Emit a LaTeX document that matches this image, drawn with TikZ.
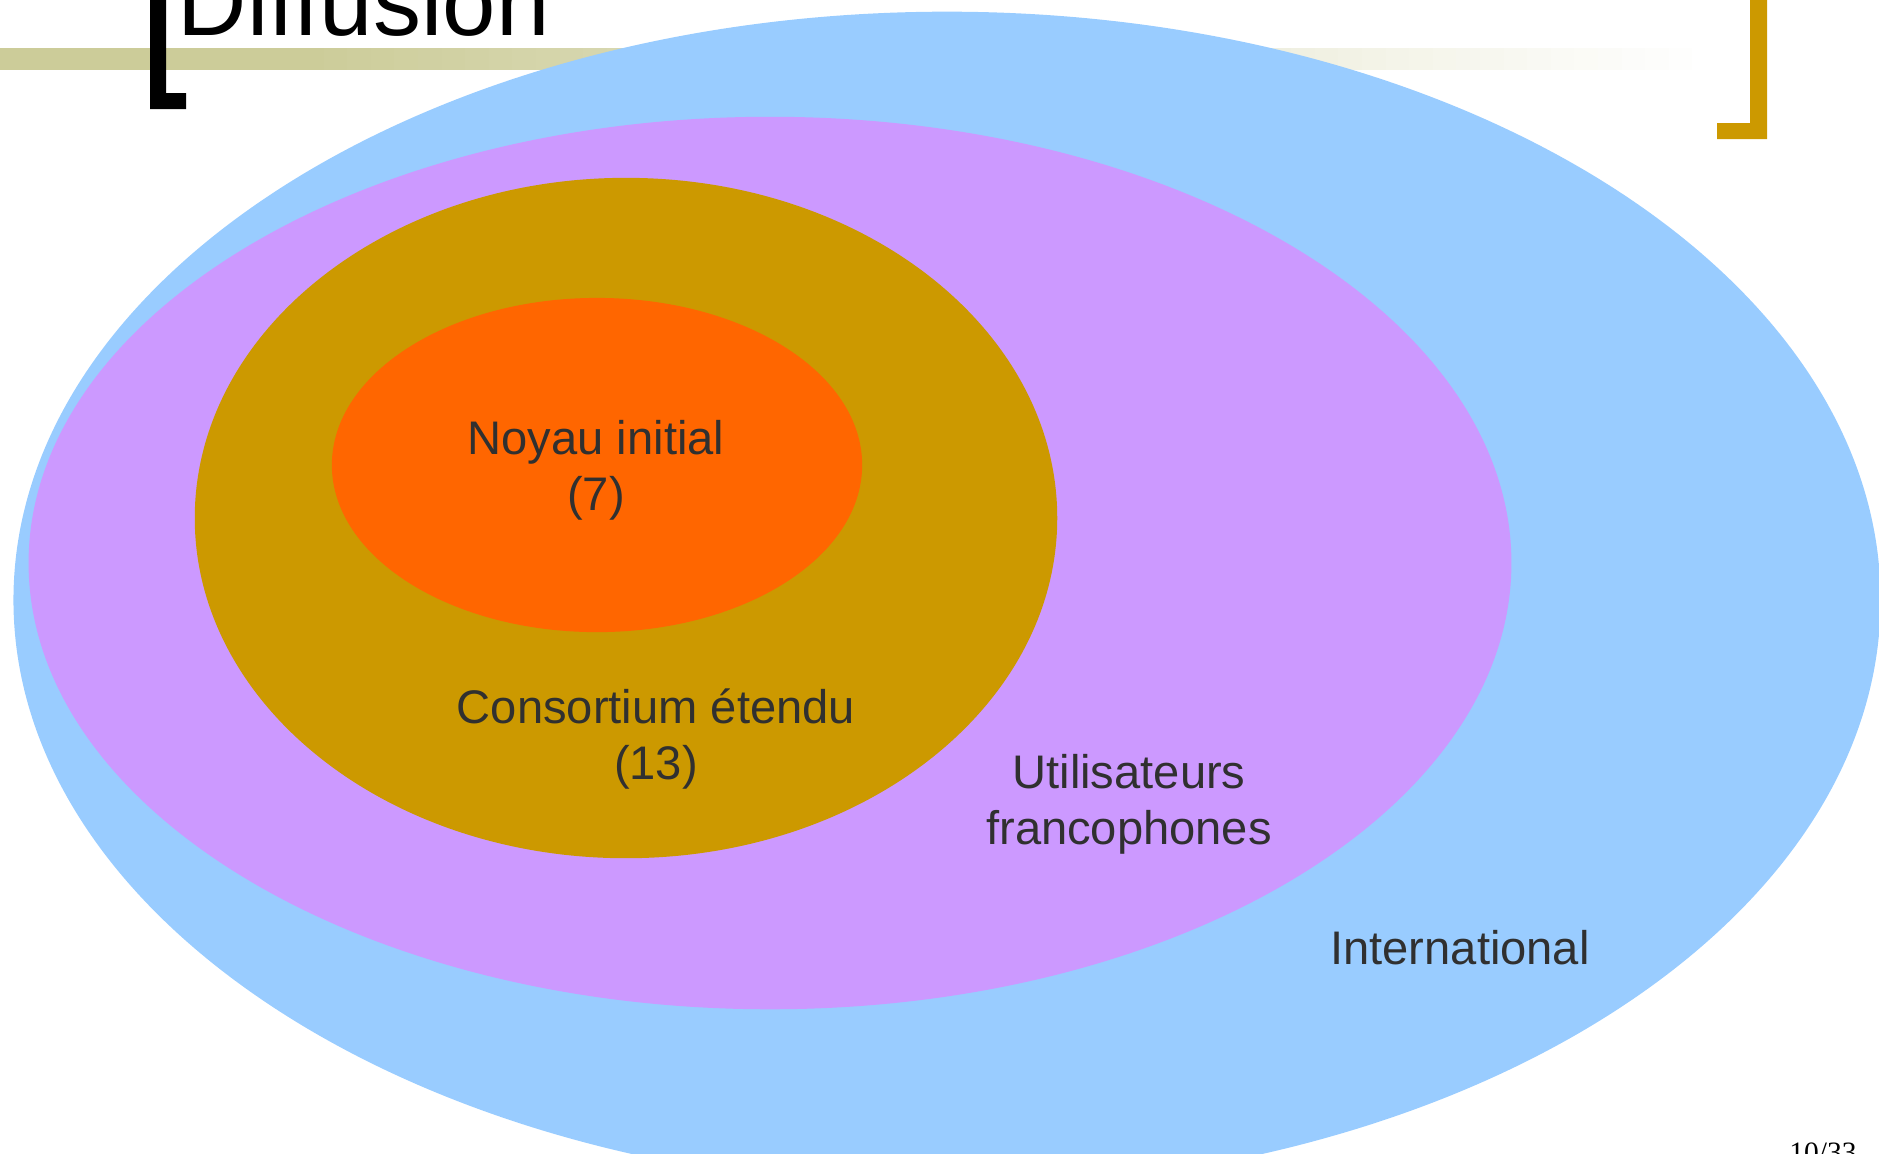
\documentclass[tikz,border=0pt]{standalone}
\usepackage{fontspec}
\setmainfont{Liberation Sans}
\newfontfamily\pagefont{Liberation Serif}
\definecolor{bandcol}{HTML}{CCCC99}
\definecolor{bracketgold}{HTML}{CC9900}
\definecolor{intlblue}{HTML}{99CCFF}
\definecolor{francpurple}{HTML}{CC99FF}
\definecolor{consgold}{HTML}{CC9900}
\definecolor{noyauorange}{HTML}{FF6600}
\definecolor{zonegray}{HTML}{303030}
\tikzset{
  zonetext/.style={align=center, inner sep=0pt, text=zonegray,
    font=\fontsize{13.4}{15.9}\selectfont}
}
\begin{document}
\begin{tikzpicture}[x=0.01cm,y=-0.01cm]
  \useasboundingbox (0,0) rectangle (1879,1153);
  \clip (0,0) rectangle (1879,1153);
  % title band (fading to white) and brackets
  \fill[bandcol] (0,48) rectangle (302,70);
  \foreach \i in {0,...,59} {
    \pgfmathsetmacro{\xa}{300+\i*23.6}
    \pgfmathsetmacro{\pc}{100-\i*100/59}
    \fill[bandcol!\pc!white] (\xa,48) rectangle ({\xa+24.2},70);
  }
  \node[anchor=base west, inner sep=0pt, font=\fontsize{27.3}{31}\selectfont] (title) at (177,35) {Diffusion};
  \fill (150,-5) -- (166,-5) -- (166,93) -- (186,93) -- (186,109) -- (150,109) -- cycle;
  \fill[bracketgold] (1750,-5) -- (1767,-5) -- (1767,139) -- (1717,139) -- (1717,123) -- (1750,123) -- cycle;
  % nested zones
  \fill[intlblue] (947,600) ellipse [x radius=9.33cm, y radius=5.88cm];
  \fill[francpurple] (770,563) ellipse [x radius=7.41cm, y radius=4.46cm];
  \fill[consgold] (626,518) ellipse [x radius=4.31cm, y radius=3.40cm];
  \fill[noyauorange] (597,465) ellipse [x radius=2.65cm, y radius=1.67cm];
  \node[zonetext] (noyau) at (596,470) {Noyau initial\\(7)};
  \node[zonetext] (consortium) at (656,739) {Consortium étendu\\(13)};
  \node[zonetext] (franco) at (1129,804) {Utilisateurs\\francophones};
  \node[zonetext, anchor=base] (intl) at (1460,964) {International};
  \node[anchor=base, inner sep=0pt, font=\pagefont\fontsize{8.4}{10}\selectfont] (page) at (1823,1162) {10/33};
\end{tikzpicture}
\end{document}
